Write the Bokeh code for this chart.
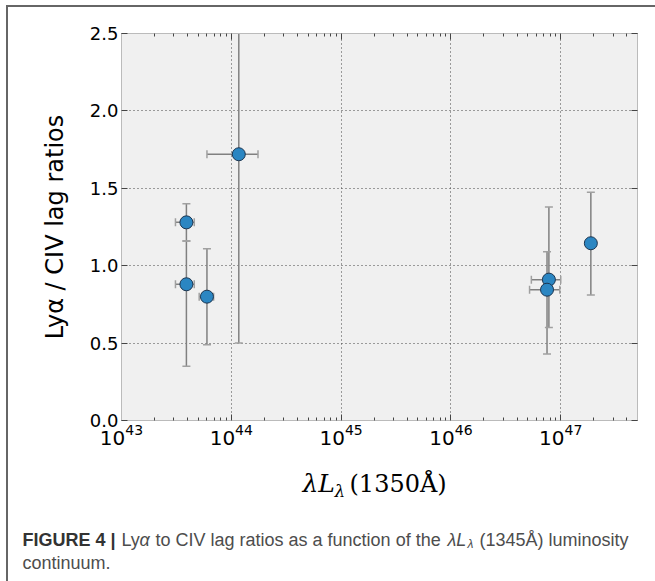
from bokeh.plotting import figure
from bokeh.models import (FixedTicker, LogAxis, LinearAxis, LogTickFormatter,
                          PrintfTickFormatter, Range1d, Column)
from bokeh.embed import file_html
from bokeh.resources import INLINE
from bokeh.core.properties import value

# ---- data ----
lum      = [3.9e43, 3.9e43, 6.0e43, 1.17e44, 7.8e46, 7.5e46, 1.88e47]
lum_lo   = [3.1e43, 3.1e43, 5.1e43, 6.0e43, 5.4e46, 5.2e46, 1.76e47]
lum_hi   = [4.6e43, 4.6e43, 6.9e43, 1.75e44, 1.0e47, 9.8e46, 2.04e47]
ratio    = [1.28, 0.88, 0.80, 1.72, 0.91, 0.845, 1.145]
ratio_lo = [1.16, 0.35, 0.49, 0.50, 0.60, 0.43, 0.81]
ratio_hi = [1.40, 1.16, 1.11, 3.20, 1.38, 1.09, 1.475]

x_ticks = [1e43, 1e44, 1e45, 1e46, 1e47]
y_ticks = [0.0, 0.5, 1.0, 1.5, 2.0, 2.5]
x_minor = [k * 10.0 ** e for e in range(43, 48) for k in range(2, 10)]

W = 647
p = figure(width=W, height=448, x_axis_type="log",
           x_range=Range1d(1e43, 5.0e47), y_range=Range1d(0, 2.5),
           output_backend="svg", toolbar_location=None,
           min_border_left=113, min_border_right=18, min_border_top=26, min_border_bottom=35)
p.background_fill_color = "#f0f0f0"
p.border_fill_color = "white"
p.outline_line_color = "#bbbbbb"

xt = FixedTicker(ticks=x_ticks, minor_ticks=x_minor)
yt = FixedTicker(ticks=y_ticks, minor_ticks=[])

for ax in (p.xaxis[0], p.yaxis[0]):
    ax.major_tick_in = 6
    ax.major_tick_out = 0
    ax.minor_tick_in = 3
    ax.minor_tick_out = 0
    ax.major_tick_line_color = "#444444"
    ax.minor_tick_line_color = "#444444"
    ax.axis_line_color = "#bbbbbb"
    ax.major_label_text_font = "DejaVu Sans"
    ax.major_label_text_color = "black"
    ax.major_label_standoff = 3

p.xaxis[0].ticker = xt
p.xaxis[0].formatter = LogTickFormatter()
p.xaxis[0].major_label_text_font_size = "20px"
p.yaxis[0].ticker = yt
p.yaxis[0].formatter = PrintfTickFormatter(format="%.1f")
p.yaxis[0].major_label_text_font_size = "18px"
p.yaxis[0].axis_label = "Lyα / CIV lag ratios"
p.yaxis[0].axis_label_text_font = "DejaVu Sans"
p.yaxis[0].axis_label_text_font_size = "24px"
p.yaxis[0].axis_label_text_font_style = "normal"
p.yaxis[0].axis_label_text_color = "black"
p.yaxis[0].axis_label_standoff = 18

top = LogAxis(ticker=xt, major_label_text_font_size="1px", major_label_text_alpha=0,
              major_label_standoff=0,
              major_tick_in=6, major_tick_out=0, minor_tick_in=3, minor_tick_out=0,
              major_tick_line_color="#444444", minor_tick_line_color="#444444",
              axis_line_color="#bbbbbb")
right = LinearAxis(ticker=yt, major_label_text_font_size="1px", major_label_text_alpha=0,
                   major_label_standoff=0,
                   major_tick_in=6, major_tick_out=0, minor_tick_in=0, minor_tick_out=0,
                   major_tick_line_color="#444444", axis_line_color="#bbbbbb")
p.add_layout(top, "above")
p.add_layout(right, "right")

p.xgrid.ticker = xt
p.ygrid.ticker = yt
for g in (p.xgrid[0], p.ygrid[0]):
    g.grid_line_color = "#444444"
    g.grid_line_dash = "1 3"
    g.grid_line_width = 1

# error bars
p.segment(x0=lum, y0=ratio_lo, x1=lum, y1=ratio_hi, line_color="#808080", line_width=1.5)
p.segment(x0=lum_lo, y0=ratio, x1=lum_hi, y1=ratio, line_color="#808080", line_width=1.5)
p.scatter(x=lum + lum, y=ratio_lo + ratio_hi, marker="dash", size=8, line_color="#a0a0a0", line_width=1.5)
p.scatter(x=lum_lo + lum_hi, y=ratio + ratio, marker="dash", size=8, angle=1.5708,
          line_color="#a0a0a0", line_width=1.5)
p.scatter(x=lum, y=ratio, size=13, fill_color="#2b86c2", line_color="#1b3550", line_width=1)

# ---- lower panel: x axis title and figure caption (pixel layout space) ----
H2 = 126
q = figure(width=W, height=H2, x_range=Range1d(0, W), y_range=Range1d(0, H2),
           x_axis_type=None, y_axis_type=None,
           output_backend="svg", toolbar_location=None,
           min_border=0, min_border_left=0, min_border_right=0, min_border_top=0, min_border_bottom=0)
q.grid.visible = False
q.outline_line_color = None
q.background_fill_color = "white"
q.border_fill_color = "white"

serif = value("DejaVu Serif")
q.text(x=[294], y=[98], text=["λL"], text_font=serif, text_font_style="italic",
       text_font_size="25px", text_baseline="alphabetic", text_color="black")
q.text(x=[326], y=[91], text=["λ"], text_font=serif, text_font_style="italic",
       text_font_size="17px", text_baseline="alphabetic", text_color="black")
q.text(x=[341], y=[98], text=["(1350Å)"], text_font=serif,
       text_font_size="24px", text_baseline="alphabetic", text_color="black")

sans = value("Liberation Sans")
capkw = dict(text_font=sans, text_font_size="18px", text_baseline="alphabetic")
q.text(x=[14], y=[42], text=["FIGURE 4 |"], text_font_style="bold", text_color="#333333", **capkw)
q.text(x=[113], y=[42], text=["Ly"], text_color="#4d4d4d", **capkw)
q.text(x=[131], y=[42], text=["α"], text_font_style="italic", text_color="#4d4d4d", **capkw)
q.text(x=[147], y=[42], text=["to CIV lag ratios as a function of the"], text_color="#4d4d4d", **capkw)
q.text(x=[439], y=[42], text=["λL"], text_font_style="italic", text_color="#4d4d4d", **capkw)
q.text(x=[459], y=[38], text=["λ"], text_font_style="italic", text_color="#4d4d4d",
       text_font=sans, text_font_size="12px", text_baseline="alphabetic")
q.text(x=[471], y=[42], text=["(1345Å) luminosity"], text_color="#4d4d4d", **capkw)
q.text(x=[14], y=[19], text=["continuum."], text_color="#4d4d4d", **capkw)

layout = Column(children=[Column(children=[p]), Column(children=[q])], spacing=0, margin=(5, 0, 0, 6),
                styles={"border-left": "2px solid #666666", "border-top": "2px solid #666666"})

open("out.html", "w").write(file_html(layout, INLINE))
